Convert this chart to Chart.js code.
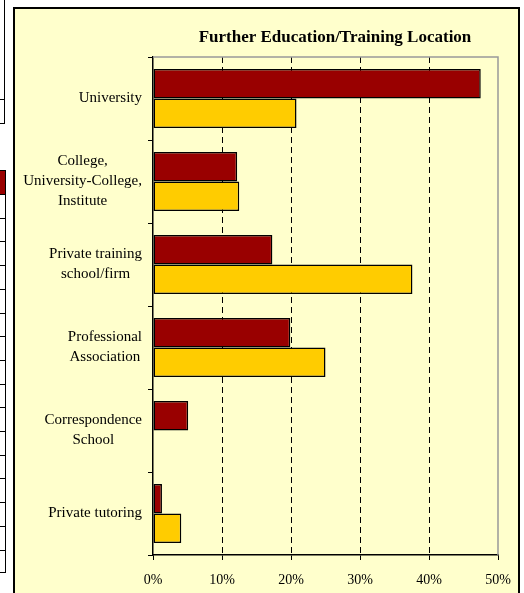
<!DOCTYPE html>
<html>
<head>
<meta charset="utf-8">
<script src="https://cdn.jsdelivr.net/npm/chart.js@4"></script>
<style>
  body { margin: 0; background: #fff; width: 524px; height: 593px; overflow: hidden; position: relative; }
  .frag { position: absolute; border: 1.5px solid #000; background: #fff; }
  .hline { position: absolute; left: 0; right: 0; height: 1px; background: #000; }
  #panel { position: absolute; left: 13px; top: 7px; width: 503px; height: 600px; border: 2px solid #000; background: #FFFFCC; }
  #chart { position: absolute; left: 0; top: 0; }
</style>
</head>
<body>
<!-- bouts de tableaux coupés à gauche -->
<div class="frag" id="box1" style="left:-10px; top:-3px; width:13px; height:125px;"></div>
<div class="frag" id="box2" style="left:-10px; top:170px; width:14px; height:401px;"></div>

<div id="panel">
  <canvas id="chart" width="503" height="584"></canvas>
</div>

<script>
// Données du graphique
const categories = [
  'University',
  ['College,', 'University-College,', 'Institute'],
  ['Private training', 'school/firm'],
  ['Professional', 'Association'],
  ['Correspondence', 'School'],
  'Private tutoring'
];
const series1 = [47.5, 12.2, 17.3, 19.9, 5.1, 1.3];
const series2 = [20.8, 12.5, 37.6, 25.0, 0, 4.1];
const xTicks = [0, 10, 20, 30, 40, 50];
const chartTitle = 'Further Education/Training Location';

// Lignes des fragments de tableau
const box1 = document.getElementById('box1');
const l1 = document.createElement('div');
l1.className = 'hline';
l1.style.top = '101px';
box1.appendChild(l1);

const box2 = document.getElementById('box2');
const head = document.createElement('div');
head.style.cssText = 'position:absolute;left:0;right:0;top:0;height:23px;background:#990000;';
box2.appendChild(head);
for (let k = 1; k < 17; k++) {
  const l = document.createElement('div');
  l.className = 'hline';
  l.style.top = (23 + (k - 1) * 23.7) + 'px';
  box2.appendChild(l);
}

Chart.defaults.font.family = '"Liberation Serif", "Times New Roman", serif';
Chart.defaults.color = '#000';

// Titre + étiquettes de catégories + cadre gris
const decorPlugin = {
  id: 'decor',
  beforeDatasetsDraw(chart) {
    const { ctx, chartArea } = chart;
    ctx.save();
    ctx.strokeStyle = '#999';
    ctx.lineWidth = 1.5;
    ctx.beginPath();
    ctx.moveTo(chartArea.left, chartArea.top);
    ctx.lineTo(chartArea.right, chartArea.top);
    ctx.lineTo(chartArea.right, chartArea.bottom);
    ctx.stroke();
    ctx.restore();
  },
  afterDraw(chart) {
    const { ctx, chartArea, scales } = chart;
    ctx.save();
    ctx.fillStyle = '#000';
    // titre
    ctx.font = 'bold 17px "Liberation Serif"';
    ctx.textAlign = 'center';
    ctx.textBaseline = 'alphabetic';
    ctx.fillText(chartTitle, 320, 33);
    // étiquettes de l'axe Y (lignes centrées, bloc aligné à droite)
    ctx.font = '15px "Liberation Serif"';
    ctx.textBaseline = 'middle';
    const right = chartArea.left - 11;
    categories.forEach((label, i) => {
      const lines = Array.isArray(label) ? label : [label];
      const w = Math.max(...lines.map(t => ctx.measureText(t).width));
      const cx = right - w / 2;
      const cy = scales.y.getPixelForValue(i);
      lines.forEach((t, k) => ctx.fillText(t, cx, cy + (k - (lines.length - 1) / 2) * 20));
    });
    ctx.restore();
  }
};

new Chart(document.getElementById('chart'), {
  type: 'bar',
  data: {
    labels: categories,
    datasets: [
      { label: 'Series 1', data: series1, backgroundColor: '#990000', borderColor: '#000', borderWidth: 1.5, borderSkipped: false },
      { label: 'Series 2', data: series2, backgroundColor: '#FFCC00', borderColor: '#000', borderWidth: 1.5, borderSkipped: false }
    ]
  },
  options: {
    indexAxis: 'y',
    responsive: false,
    animation: false,
    categoryPercentage: 0.71,
    barPercentage: 1,
    layout: { padding: { top: 48, right: 20, left: 0, bottom: 0 } },
    plugins: {
      legend: { display: false },
      title: { display: false },
      tooltip: { enabled: false }
    },
    scales: {
      x: {
        min: xTicks[0],
        max: xTicks[xTicks.length - 1],
        afterBuildTicks: s => { s.ticks = xTicks.map(v => ({ value: v })); },
        ticks: { callback: v => v + '%', font: { size: 14 }, color: '#000', padding: 12, maxRotation: 0 },
        grid: {
          color: c => (c.tick && (c.tick.value === 0 || c.tick.value === 50)) ? 'rgba(0,0,0,0)' : '#000',
          tickColor: '#000',
          tickLength: 5,
          lineWidth: 1
        },
        border: { color: '#000', width: 1.5, dash: [6, 4] },
        afterFit: s => { s.height = 38; s.paddingLeft = 0; s.paddingRight = 0; }
      },
      y: {
        ticks: { display: false },
        grid: { drawOnChartArea: false, offset: true, tickLength: 5, tickColor: '#000', color: '#000' },
        border: { color: '#000', width: 1.5 },
        afterFit: s => { s.width = 138; s.paddingTop = 0; s.paddingBottom = 0; }
      }
    }
  },
  plugins: [decorPlugin]
});
</script>
</body>
</html>
